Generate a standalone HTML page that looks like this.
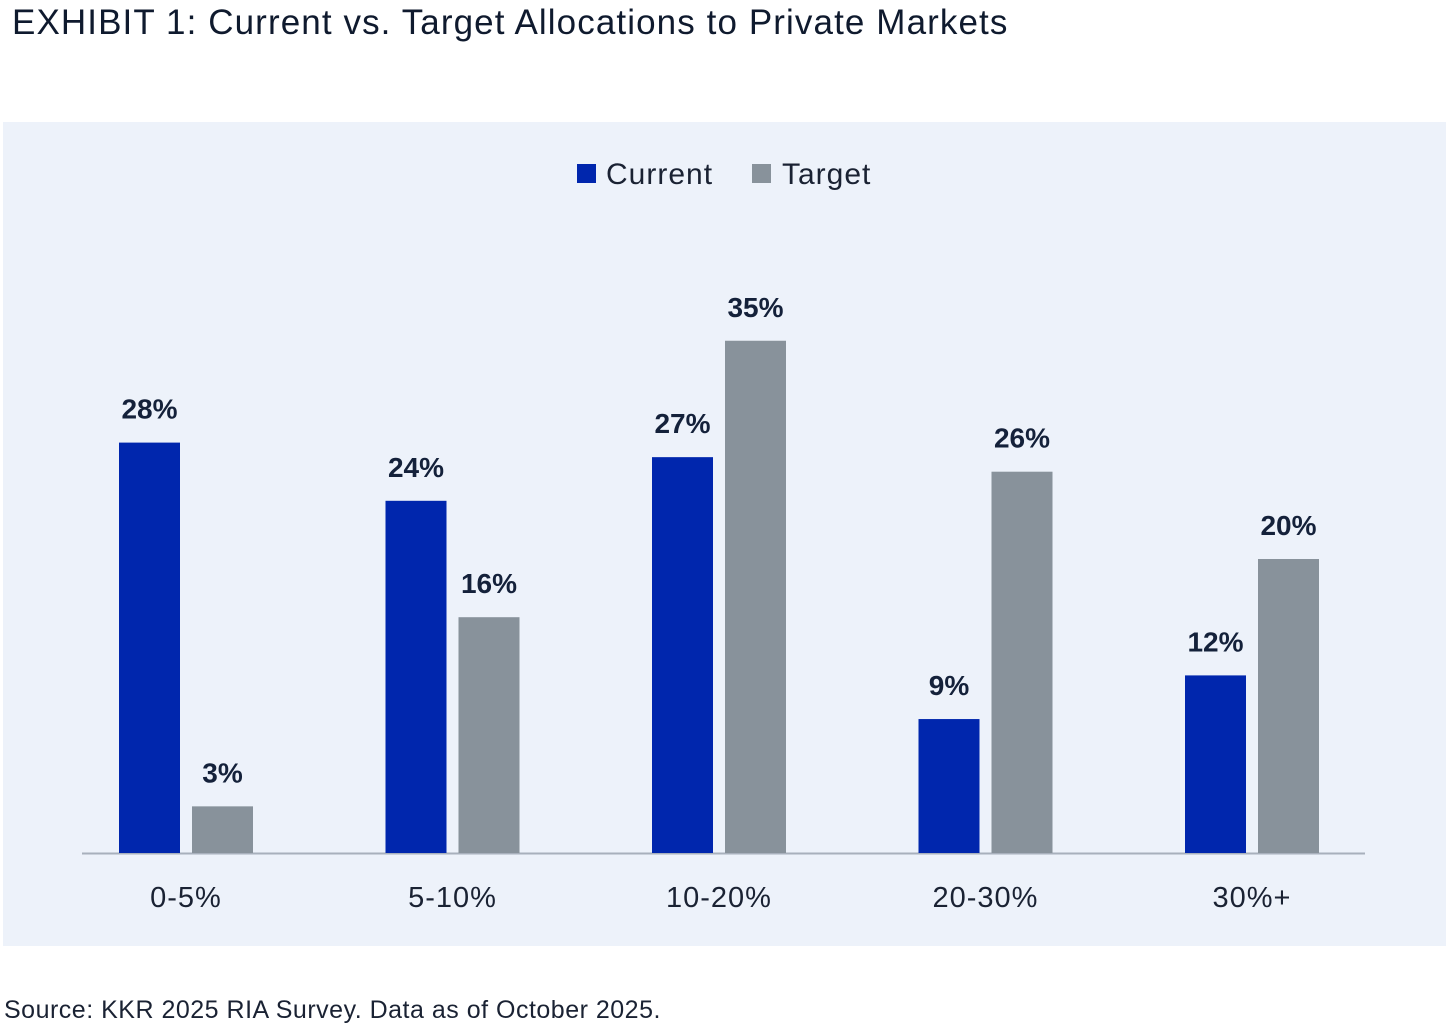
<!DOCTYPE html>
<html><head><meta charset="utf-8"><style>
body{margin:0;background:#fff;width:1456px;height:1032px;overflow:hidden;font-family:"Liberation Sans",sans-serif;}
.title{position:absolute;left:12px;top:3px;font-size:35px;letter-spacing:1.1px;color:#0f1a2e;}
.src{position:absolute;left:4px;top:996px;font-size:25px;letter-spacing:0.5px;color:#1a2233;}
.panel{position:absolute;left:3px;top:122px;width:1443px;height:824px;background:#edf2fa;}
</style></head><body>
<div class="title">EXHIBIT 1: Current vs. Target Allocations to Private Markets</div>
<div class="panel"></div>
<svg id="chart" width="1456" height="1032" style="position:absolute;left:0;top:0">
<g>
<rect x="577" y="164" width="19" height="19" fill="#0026ad"/>
<text x="606" y="184" font-size="30" letter-spacing="1" fill="#1a2233">Current</text>
<rect x="752" y="164" width="19" height="19" fill="#88929b"/>
<text x="782" y="184" font-size="30" letter-spacing="1" fill="#1a2233">Target</text>
</g>
<line x1="82" y1="853.5" x2="1365" y2="853.5" stroke="#a8b0bc" stroke-width="2"/>
</svg>
<div class="src">Source: KKR 2025 RIA Survey. Data as of October 2025.</div>
<script>
const categories=["0-5%","5-10%","10-20%","20-30%","30%+"];
const currentVals=[28,24,27,9,12];
const targetVals=[3,16,35,26,20];
const svg=document.getElementById('chart');
const NS='http://www.w3.org/2000/svg';
const base=853, pxPer=14.55, offs=3, groupStart=119, groupStep=266.5, bw=61, gap=12;
function y(v){return base-offs-v*pxPer;}
function xg(i){return groupStart+i*groupStep;}
function mk(t,a){const e=document.createElementNS(NS,t);for(const k in a)e.setAttribute(k,a[k]);svg.appendChild(e);return e;}
categories.forEach((c,i)=>{
  const x0=xg(i), x1=x0+bw+gap;
  const b1=mk('rect',{x:x0,y:y(currentVals[i]),width:bw,height:base-y(currentVals[i]),fill:'#0026ad'});
  
  
  const b2=mk('rect',{x:x1,y:y(targetVals[i]),width:bw,height:base-y(targetVals[i]),fill:'#88929b'});
  
  
  const l1=mk('text',{x:x0+bw/2,y:y(currentVals[i])-24,'text-anchor':'middle','font-size':28,'font-weight':'bold',fill:'#14213a'});
  l1.textContent=currentVals[i]+'%';
  
  
  const l2=mk('text',{x:x1+bw/2,y:y(targetVals[i])-24,'text-anchor':'middle','font-size':28,'font-weight':'bold',fill:'#14213a'});
  l2.textContent=targetVals[i]+'%';
  
  
  const cl=mk('text',{x:x0+bw+gap/2,y:907,'text-anchor':'middle','font-size':29,'letter-spacing':1,fill:'#1a2233'});
  cl.textContent=c;
  
  
});
</script>
</body></html>
